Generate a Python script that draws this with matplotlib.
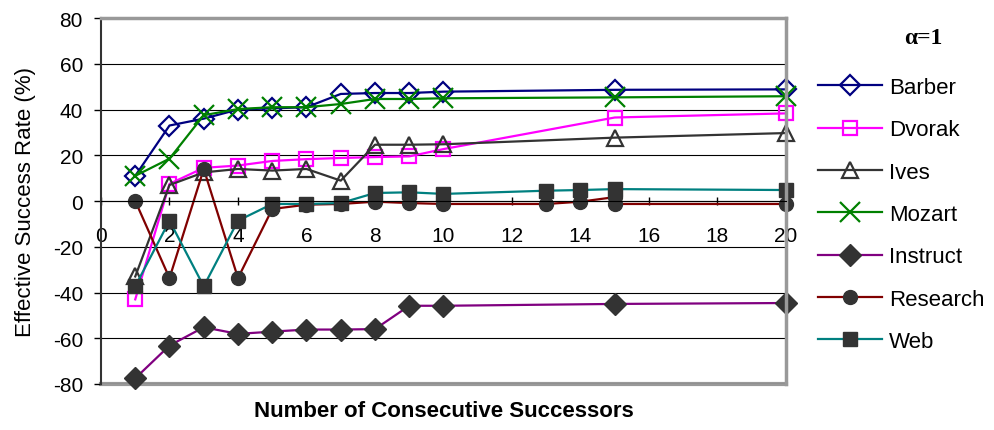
import matplotlib
matplotlib.use("Agg")
import matplotlib.pyplot as plt

plt.rcParams['font.family'] = ['Liberation Sans', 'DejaVu Sans']
plt.rcParams['axes.unicode_minus'] = False

# ---- data ----
x_main = [1, 2, 3, 4, 5, 6, 7, 8, 9, 10, 15, 20]
barber = [11, 33, 36, 40, 40.5, 41, 46.8, 47.2, 47.2, 47.8, 48.6, 48.8]
dvorak = [-43, 7.5, 14.5, 15.5, 17.5, 18.3, 18.8, 19.2, 19.5, 22.7, 36.5, 38.3]
ives = [-33, 7, 12.5, 14, 13.3, 14, 8.9, 24.6, 24.6, 24.8, 27.7, 29.7]
mozart = [11, 18.5, 37.5, 40.2, 41, 41, 42.4, 44.6, 44.6, 44.9, 45.3, 45.8]
instruct = [-77.5, -63.2, -55.2, -58.1, -57.1, -56.2, -56.2, -56, -45.8, -45.8, -45, -44.6]
x_research = [1, 2, 3, 4, 5, 6, 7, 8, 9, 10, 13, 14, 15, 15, 20]
research = [0, -33.7, 14, -33.7, -3.5, -1.6, -1.3, -0.3, -0.9, -1.3, -1.3, -0.3, 1.7, -1.3, -1.3]
x_web = [1, 2, 3, 4, 5, 6, 7, 8, 9, 10, 13, 14, 15, 20]
web = [-37.3, -8.6, -37.3, -8.6, -1.3, -1.3, -0.9, 3.5, 3.8, 3.1, 4.5, 4.8, 5.2, 4.8]

x_ticks = [0, 2, 4, 6, 8, 10, 12, 14, 16, 18, 20]
y_ticks = [-80, -60, -40, -20, 0, 20, 40, 60, 80]

fig = plt.figure(figsize=(9.95, 4.31), dpi=100)
ax = fig.add_axes([101/995, 1-385/431, (786-101)/995, (385-19)/431])

lw = 1.6
mk = '#333333'
kw = dict(clip_on=False, lw=lw)
ax.plot(x_main, barber, color='#000080', marker='D', ms=10, mfc='none',
        mec='#000080', mew=1.6, label='Barber', **kw)
ax.plot(x_main, dvorak, color='#FF00FF', marker='s', ms=10, mfc='none',
        mec='#FF00FF', mew=1.6, label='Dvorak', **kw)
ax.plot(x_main, ives, color='#333333', marker='^', ms=11, mfc='none',
        mec='#333333', mew=1.6, label='Ives', **kw)
ax.plot(x_main, mozart, color='#008000', marker='x', ms=14,
        mec='#008000', mew=1.6, label='Mozart', **kw)
ax.plot(x_main, instruct, color='#800080', marker='D', ms=11, mfc=mk,
        mec=mk, label='Instruct', **kw)
ax.plot(x_research, research, color='#800000', marker='o', ms=10, mfc=mk,
        mec=mk, label='Research', **kw)
ax.plot(x_web, web, color='#008080', marker='s', ms=9.5, mfc=mk,
        mec=mk, label='Web', **kw)

ax.set_xlim(0, 20)
ax.set_ylim(-80, 80)
ax.set_yticks(y_ticks)
ax.set_xticks(x_ticks)
ax.set_axisbelow(True)
ax.yaxis.grid(True, color='black', lw=0.8)

# spines
ax.spines['bottom'].set_position(('data', 0))
ax.spines['bottom'].set_color('black')
ax.spines['bottom'].set_linewidth(0.8)
ax.spines['left'].set_color('#333333')
ax.spines['left'].set_linewidth(1.5)
for s in ['top', 'right']:
    ax.spines[s].set_color('#999999')
    ax.spines[s].set_linewidth(2.5)
ax.axhline(-80, color='#999999', lw=3, clip_on=False, zorder=0.5)

ax.tick_params(axis='y', direction='out', length=5, width=1, labelsize=15, pad=8)
ax.tick_params(axis='x', direction='inout', length=6, width=1, labelsize=15, pad=15)

ax.set_ylabel('Effective Success Rate (%)', fontsize=16, labelpad=12)
fig.text((101+786)/2/995, 1-412/431, 'Number of Consecutive Successors',
         fontsize=16, fontweight='bold', ha='center', va='center')

fig.text(923/995, 1-39/431, 'α=1', fontsize=17, fontweight='bold',
         family=['Liberation Serif', 'DejaVu Serif'], ha='center', va='center')

leg = fig.legend(loc='upper left', bbox_to_anchor=(818/995, 1-78/431),
                 frameon=False, fontsize=16, borderpad=0, borderaxespad=0,
                 handlelength=2.9, handletextpad=0.3, labelspacing=0.96)

fig.savefig('out.png', dpi=100)
